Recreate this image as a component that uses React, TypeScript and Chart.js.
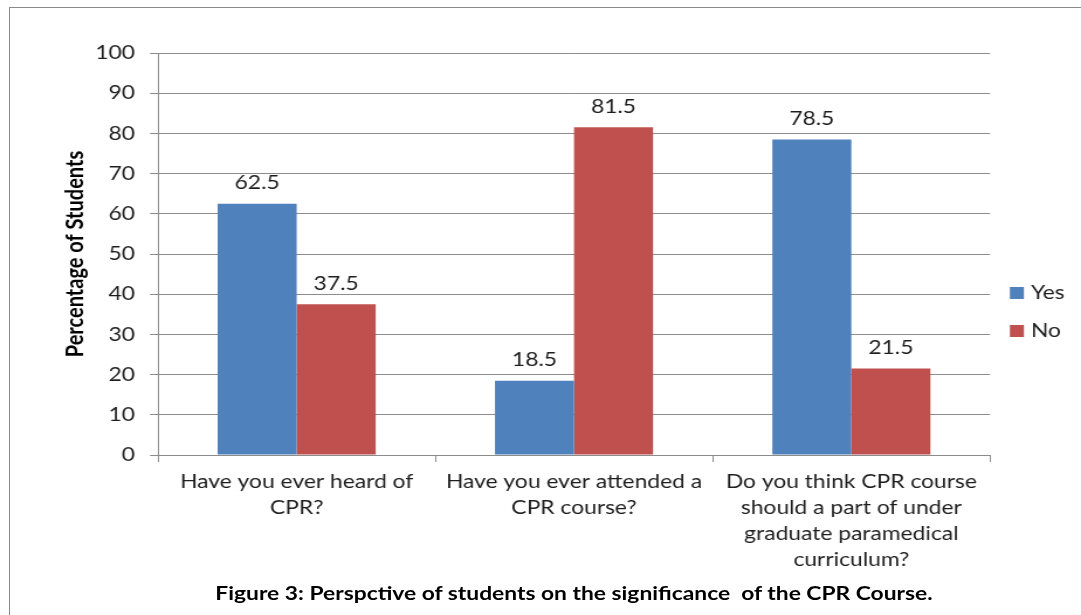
import { useEffect, useRef } from "react";
import { Chart, registerables } from "chart.js";

Chart.register(...registerables);

// Survey questions (x categories), split into wrapped lines
const questions: string[][] = [
  ["Have you ever heard of", "CPR?"],
  ["Have you ever attended a", "CPR course?"],
  ["Do you think CPR course", "should a part of under", "graduate paramedical", "curriculum?"],
];

const seriesNames = ["Yes", "No"];
const yesValues = [62.5, 18.5, 78.5];
const noValues = [37.5, 81.5, 21.5];

const seriesColors = ["#4F81BD", "#C0504D"];

const yMin = 0;
const yMax = 100;
const yStep = 10;

const yAxisTitle = "Percentage of Students";
const caption = "Figure 3: Perspctive of students on the significance  of the CPR Course.";

// The chart is rendered on a narrower canvas and widened by CSS
const VIEW_W = 1081;
const VIEW_H = 615;
const CANVAS_W = 924;
const SX = VIEW_W / CANVAS_W;

const FONT = "Lato, 'Open Sans', sans-serif";
const FONT_SIZE = 19.5;
const TEXT = "#1e1e1e";
const GRID = "#8c8c8c";

const valueLabels = {
  id: "valueLabels",
  afterDatasetsDraw(chart: any) {
    const ctx = chart.ctx;
    ctx.save();
    ctx.font = `${FONT_SIZE}px ${FONT}`;
    ctx.fillStyle = TEXT;
    ctx.textAlign = "center";
    ctx.textBaseline = "middle";
    chart.data.datasets.forEach((ds: any, di: number) => {
      const meta = chart.getDatasetMeta(di);
      meta.data.forEach((el: any, i: number) => {
        ctx.fillText(String(ds.data[i]), el.x, el.y - 21);
      });
    });
    ctx.restore();
  },
};

const sideLegend = {
  id: "sideLegend",
  afterDraw(chart: any) {
    const { ctx, chartArea } = chart;
    const x = chartArea.right + 17;
    const midY = (chartArea.top + chartArea.bottom) / 2 + 58;
    const gap = 38;
    ctx.save();
    ctx.font = `${FONT_SIZE}px ${FONT}`;
    ctx.textBaseline = "middle";
    ctx.textAlign = "left";
    chart.data.datasets.forEach((ds: any, i: number) => {
      const cy = midY + (i - (chart.data.datasets.length - 1) / 2) * gap;
      ctx.fillStyle = ds.backgroundColor;
      ctx.fillRect(x, cy - 6, 12, 12);
      ctx.fillStyle = TEXT;
      ctx.fillText(ds.label, x + 18, cy);
    });
    ctx.restore();
  },
};

export default function App() {
  const canvasRef = useRef<HTMLCanvasElement | null>(null);

  useEffect(() => {
    if (!canvasRef.current) return;
    const chart = new Chart(canvasRef.current, {
      type: "bar",
      data: {
        labels: questions,
        datasets: [
          {
            label: seriesNames[0],
            data: yesValues,
            backgroundColor: seriesColors[0],
            categoryPercentage: 0.57,
            barPercentage: 1,
          },
          {
            label: seriesNames[1],
            data: noValues,
            backgroundColor: seriesColors[1],
            categoryPercentage: 0.57,
            barPercentage: 1,
          },
        ],
      },
      options: {
        responsive: false,
        animation: false,
        devicePixelRatio: 1,
        layout: {
          padding: { left: 0, top: 53, right: CANVAS_W - 990 / SX, bottom: 40 },
        },
        plugins: {
          legend: { display: false },
          tooltip: { enabled: false },
        },
        scales: {
          x: {
            grid: {
              drawOnChartArea: false,
              drawTicks: true,
              tickLength: 7,
              color: GRID,
            },
            border: { color: GRID },
            ticks: {
              color: TEXT,
              font: { family: FONT, size: FONT_SIZE, lineHeight: "26px" },
              padding: 7,
              maxRotation: 0,
              minRotation: 0,
              autoSkip: false,
            },
            afterFit(scale: any) {
              scale.height = 120;
            },
          },
          y: {
            min: yMin,
            max: yMax,
            ticks: {
              stepSize: yStep,
              color: TEXT,
              font: { family: FONT, size: FONT_SIZE },
              padding: 15 / SX,
            },
            grid: {
              color: GRID,
              tickLength: 8 / SX,
            },
            border: { color: GRID },
            title: {
              display: true,
              text: yAxisTitle,
              color: "#000",
              font: { family: FONT, size: 20, weight: "bold", lineHeight: 1.2 },
              padding: { top: 75 / SX - 12, bottom: 0 },
            },
            afterFit(scale: any) {
              scale.width = 158 / SX;
            },
          },
        },
      },
      plugins: [valueLabels, sideLegend],
    });
    return () => chart.destroy();
  }, []);

  return (
    <div
      style={{
        position: "fixed",
        left: 0,
        top: 0,
        width: VIEW_W,
        height: VIEW_H,
        overflow: "hidden",
        background: "#fff",
      }}
    >
      <canvas
        ref={canvasRef}
        width={CANVAS_W}
        height={VIEW_H}
        style={{ width: `${VIEW_W}px`, height: `${VIEW_H}px`, display: "block" }}
      />
      <div
        style={{
          position: "absolute",
          left: 9,
          top: 7,
          width: VIEW_W + 20,
          height: VIEW_H + 20,
          borderLeft: "1px solid #8a8a8a",
          borderTop: "1px solid #8a8a8a",
          pointerEvents: "none",
        }}
      />
      <div
        style={{
          position: "absolute",
          left: 0,
          top: 581,
          width: 1148,
          textAlign: "center",
          whiteSpace: "pre",
          fontFamily: FONT,
          fontWeight: "bold",
          fontSize: 19,
          lineHeight: "24px",
          color: "#000",
          transform: "scaleX(1.2)",
          transformOrigin: "574px 50%",
        }}
      >
        {caption}
      </div>
    </div>
  );
}
